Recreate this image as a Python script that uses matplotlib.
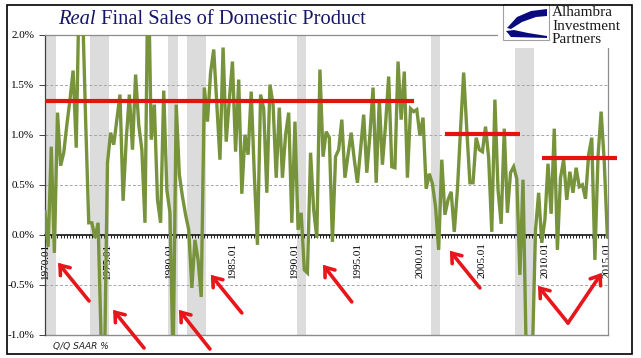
import numpy as np
import matplotlib
matplotlib.use("Agg")
import matplotlib.pyplot as plt
from matplotlib.patches import Rectangle, Polygon

# ---------------- data ----------------
start_year = 1970
# quarterly % change, 1970Q1 .. 2015Q1
values = [
    0.23, -0.12, 0.88, -0.18,        # 1970
    1.22, 0.69, 0.82, 1.10,          # 1971
    1.35, 1.64, 0.87, 2.60,          # 1972
    2.30, 1.15, 0.12, 0.12,          # 1973
    -0.03, 0.12, -1.10, -1.40,       # 1974
    0.72, 1.02, 0.90, 1.15,          # 1975
    1.40, 0.34, 0.95, 1.40,          # 1976
    0.85, 1.60, 1.10, 0.85,          # 1977
    0.12, 2.80, 0.95, 1.30,          # 1978
    0.35, 0.12, 1.44, 0.45,          # 1979
    0.22, -1.30, 1.30, 0.60,         # 1980
    0.38, 0.20, 0.05, -0.53,         # 1981
    -0.05, -0.25, -0.62, 1.47,       # 1982
    1.13, 1.62, 1.85, 1.30,          # 1983
    0.75, 1.87, 0.93, 1.35,          # 1984
    1.73, 0.83, 1.55, 0.41,          # 1985
    1.00, 0.80, 1.43, 0.60,          # 1986
    -0.10, 1.40, 1.26, 0.42,         # 1987
    1.50, 1.30, 0.57, 1.27,          # 1988
    0.57, 1.00, 1.22, 0.12,          # 1989
    1.13, 0.05, 0.22, -0.35,         # 1990
    -0.38, 0.82, 0.25, -0.03,        # 1991
    1.65, 0.78, 1.03, 0.97,          # 1992
    -0.07, 0.78, 0.85, 1.15,         # 1993
    0.57, 0.80, 1.02, 0.75,          # 1994
    0.52, 0.85, 1.20, 0.62,          # 1995
    1.00, 1.47, 0.52, 1.35,          # 1996
    0.70, 1.10, 1.58, 0.68,          # 1997
    0.67, 1.73, 1.15, 1.63,          # 1998
    0.57, 1.26, 1.23, 1.25,          # 1999
    0.99, 1.17, 0.46, 0.61,          # 2000
    0.51, 0.28, -0.15, 0.75,         # 2001
    0.20, 0.35, 0.43, 0.03,          # 2002
    0.45, 1.05, 1.62, 1.05,          # 2003
    0.52, 0.52, 0.97, 0.85,          # 2004
    0.83, 1.08, 0.77, 0.03,          # 2005
    1.35, 0.45, 0.11, 1.06,          # 2006
    0.22, 0.62, 0.68, 0.56,          # 2007
    -0.40, 0.55, -1.15, -1.60,       # 2008
    -1.20, 0.05, 0.42, -0.08,        # 2009
    0.15, 0.71, 0.21, 1.06,          # 2010
    -0.15, 0.57, 0.75, 0.35,         # 2011
    0.63, 0.42, 0.67, 0.48,          # 2012
    0.50, 0.36, 0.80, 0.97,          # 2013
    -0.25, 0.78, 1.23, 0.73,         # 2014
    -0.02,                           # 2015
]
tick_labels = ["1970.01", "1975.01", "1980.01", "1985.01", "1990.01",
               "1995.01", "2000.01", "2005.01", "2010.01", "2015.01"]
y_ticks = [-1.0, -0.5, 0.0, 0.5, 1.0, 1.5, 2.0]
recessions = [("1969Q4", "1970Q4"), ("1973Q4", "1975Q1"), ("1980Q1", "1980Q3"),
              ("1981Q3", "1982Q4"), ("1990Q2", "1990Q4"), ("2001Q1", "2001Q3"),
              ("2007Q4", "2009Q1")]
averages = [("1970Q1", "1999Q3", 1.335), ("2002Q1", "2008Q1", 1.005),
            ("2009Q4", "2015Q4", 0.77)]
title_italic = "Real"
title_rest = " Final Sales of Domestic Product"
unit_note = "Q/Q SAAR %"
logo_lines = ["Alhambra", "Investment", "Partners"]


def qidx(label):
    y, q = label.split("Q")
    return (int(y) - start_year) * 4 + int(q) - 1


x = np.arange(len(values))
tick_pos = [(int(t.split(".")[0]) - start_year) * 4 for t in tick_labels]

# ---------------- figure ----------------
W, H = 641, 358
fig = plt.figure(figsize=(W / 100, H / 100), dpi=100)
fig.patch.set_facecolor("white")

def fx(px):
    return px / W

def fy(py):
    return 1 - py / H

ax = fig.add_axes([fx(45), fy(335), fx(608) - fx(45), fy(34.5) - fy(335)])
ax.set_xlim(0, 180.2)
ax.set_ylim(-1, 2)

serif = "Liberation Serif"

# recession shading
for a, b in recessions:
    ax.axvspan(qidx(a) - 0.5, qidx(b) + 0.5, color="#DCDCDC", lw=0, zorder=0)

# gridlines
for g in [-0.5, 0.5, 1.0, 1.5]:
    ax.axhline(g, color="#A6A6A6", lw=0.7, ls=(0, (3, 2)), zorder=1)

# series
ax.plot(x, values, color="#77933C", lw=2.4, zorder=3, solid_joinstyle="miter")

# average lines
for a, b, lvl in averages:
    ax.plot([qidx(a), qidx(b)], [lvl, lvl], color="#E3140F", lw=3.0,
            zorder=4, clip_on=False, solid_capstyle="butt")

# spines / axes
for s in ["top", "right"]:
    ax.spines[s].set_color("#8C8C8C")
    ax.spines[s].set_linewidth(0.9)
ax.spines["left"].set_color("#404040")
ax.spines["left"].set_linewidth(0.9)
ax.spines["bottom"].set_position(("data", 0))
ax.spines["bottom"].set_color("black")
ax.spines["bottom"].set_linewidth(1.1)
ax.spines["bottom"].set_zorder(2)
ax.axhline(-1, color="#8C8C8C", lw=1.0, zorder=2, clip_on=False)

ax.set_xticks(tick_pos)
ax.set_xticks(np.arange(0, 181, 1), minor=True)
ax.set_xticklabels(tick_labels, rotation=90, fontsize=8, family=serif)
ax.tick_params(axis="x", which="both", direction="out", length=2.5,
               width=0.6, color="black", pad=3)
ax.set_yticks(y_ticks)
ax.set_yticklabels(["%.1f%%" % v for v in y_ticks], fontsize=8, family=serif)
ax.tick_params(axis="y", direction="out", length=4, width=0.7,
               color="#404040", pad=3.5)

# arrows (tip x, tip y, tail x, tail y)
arrows = [(4.2, -0.28, 14.1, -0.66), (21.8, -0.75, 31.7, -1.13),
          (42.9, -0.75, 52.8, -1.14), (53.1, -0.40, 63.0, -0.78),
          (89.0, -0.30, 98.2, -0.67), (129.6, -0.16, 139.2, -0.53),
          (157.8, -0.51, 167.4, -0.88), (178.2, -0.38, 167.4, -0.88)]
for tx, ty, sx, sy in arrows:
    ax.annotate("", xy=(tx, ty), xytext=(sx, sy),
                arrowprops=dict(arrowstyle="->,head_length=0.6,head_width=0.45",
                                color="#E8161A", lw=2.6, shrinkA=0, shrinkB=0,
                                joinstyle="miter"),
                annotation_clip=False, zorder=6)

# unit note
fig.text(fx(53), fy(347), unit_note, fontsize=6.5, style="italic",
         family="DejaVu Sans", color="#222222", va="center", ha="left")

# title
t1 = fig.text(fx(58), fy(20), title_italic, fontsize=14.8, style="italic",
              family=serif, color="#15156B", va="center", ha="left")
fig.canvas.draw()
r = fig.canvas.get_renderer()
bb = t1.get_window_extent(r)
fig.text(bb.x1 / W, fy(20), title_rest, fontsize=14.8, family=serif,
         color="#15156B", va="center", ha="left")

# logo area (white box covering top-right)
fig.patches.append(Rectangle((fx(498), fy(48)), fx(624) - fx(498), fy(0) - fy(48),
                             transform=fig.transFigure, facecolor="white",
                             edgecolor="none", zorder=5))
fig.patches.append(Rectangle((fx(503), fy(40)), fx(549) - fx(503), fy(4) - fy(40),
                             transform=fig.transFigure, facecolor="white",
                             edgecolor="#A0A0A0", lw=0.8, zorder=6))
blue = "#0A0A80"
upper = [(547, 9), (531, 11), (517, 17), (507, 28), (511, 29), (522, 22), (536, 17), (547, 16)]
lower = [(506, 31), (511, 37), (547, 38), (547, 36), (528, 33), (514, 30)]
for poly in (upper, lower):
    fig.patches.append(Polygon([(fx(a), fy(b)) for a, b in poly], closed=True,
                               transform=fig.transFigure, facecolor=blue,
                               edgecolor="none", zorder=7))
for k, line in enumerate(logo_lines):
    fig.text(fx(552), fy(12.5 + 13.5 * k), line, fontsize=11, family=serif,
             color="#1A1A1A", va="center", ha="left", zorder=8)

# outer frame
fig.patches.append(Rectangle((fx(7), fy(354)), fx(632) - fx(7), fy(5) - fy(354),
                             transform=fig.transFigure, facecolor="none",
                             edgecolor="black", lw=1.2, zorder=9))

fig.savefig("out.png", dpi=100)
